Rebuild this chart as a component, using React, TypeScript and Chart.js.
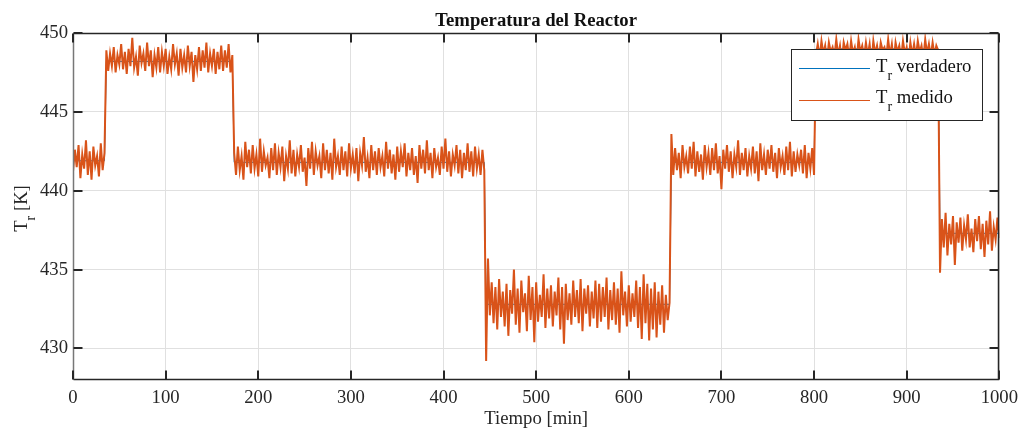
import React, { useEffect, useRef } from 'react';
import { Chart, registerables } from 'chart.js';

Chart.register(...registerables);

const titulo = 'Temperatura del Reactor';
const etiquetaX = 'Tiempo [min]';
const etiquetaY = ['T', 'r', ' [K]'];
const leyenda = [' verdadero', ' medido'];

const xTicks = [0, 100, 200, 300, 400, 500, 600, 700, 800, 900, 1000];
const yTicks = [430, 435, 440, 445, 450];

// Tr verdadero: step profile (min, K)
const tVerdadero = [0, 34, 36, 172, 174, 444, 446, 644, 646, 800, 802, 934, 936, 1000];
const verdadero = [441.9, 441.9, 448.2, 448.2, 441.8, 441.8, 432.8, 432.8, 441.8, 441.8, 449.0, 449.0, 437.3, 437.3];

// Tr medido: sampled every 2 min from 0 to 1000
const pasoMedido = 2;
const medido = [
  441.2, 442.6, 441.5, 442.9, 440.8, 442.3, 441.4, 443.2, 441.0, 442.5, 440.7, 442.8, 441.6, 442.2, 440.9, 443.0, 441.3, 442.4,
  448.9, 447.6, 448.7, 447.9, 449.1, 447.5, 448.6, 448.0, 449.3, 447.7,
  448.8, 447.4, 449.0, 447.9, 449.7, 447.8, 448.5, 447.3, 449.2, 448.1,
  448.7, 447.6, 449.4, 447.9, 448.9, 447.2, 448.6, 447.8, 449.1, 447.5,
  448.8, 447.9, 449.0, 447.4, 448.5, 447.7, 449.3, 448.0, 448.7, 447.3,
  449.0, 447.8, 448.6, 447.5, 449.2, 447.9, 448.8, 446.9, 448.6, 447.7,
  449.1, 447.6, 448.9, 447.8, 449.4, 447.5, 448.7, 447.9, 449.0, 447.4,
  448.8, 447.7, 449.2, 447.6, 448.9, 447.8, 449.3, 447.5, 448.6,
  442.4, 441.0, 442.8, 441.3, 442.2, 440.7, 443.1, 441.5, 442.6, 441.1,
  442.9, 441.4, 442.3, 440.9, 443.3, 441.2, 442.5, 441.6, 442.1, 440.8,
  442.7, 441.3, 443.0, 441.0, 442.4, 441.5, 442.8, 440.6, 442.2, 441.4,
  443.2, 441.1, 442.6, 440.9, 442.3, 441.5, 442.9, 441.2, 442.1, 440.3,
  442.7, 441.4, 443.1, 441.0, 442.5, 441.6, 442.2, 440.8, 443.0, 441.3,
  442.6, 441.1, 442.4, 440.7, 443.3, 441.5, 442.2, 441.0, 442.8, 441.3,
  442.5, 440.9, 443.0, 441.4, 442.3, 441.1, 442.7, 440.6, 442.4, 441.6,
  443.4, 441.2, 442.1, 440.8, 442.9, 441.3, 442.5, 441.0, 442.7, 441.5,
  442.2, 440.9, 443.1, 441.4, 442.6, 441.1, 442.3, 440.7, 442.8, 441.2,
  442.5, 441.5, 443.0, 440.9, 442.4, 441.3, 442.7, 441.0, 442.2, 440.5,
  442.9, 441.4, 442.6, 441.1, 443.2, 441.3, 442.4, 440.8, 442.7, 441.5,
  442.1, 441.0, 442.8, 441.4, 443.3, 441.2, 442.5, 440.9, 442.3, 441.6,
  442.9, 441.1, 442.6, 440.8, 442.4, 441.3,
  443.0, 441.2, 442.5, 440.9, 442.8, 441.4, 442.3, 441.0, 442.6, 441.3,
  429.2, 435.7, 432.1, 434.2, 431.6, 433.9, 431.2, 434.4, 432.0, 433.6,
  431.4, 434.1, 430.8, 433.7, 432.2, 435.0, 431.5, 433.8, 431.0, 434.3,
  432.3, 433.5, 431.1, 434.6, 431.8, 433.9, 430.4, 434.2, 431.7, 433.4,
  432.0, 434.7, 431.3, 433.8, 431.9, 434.0, 431.4, 433.6, 432.1, 434.5,
  431.2, 433.9, 430.3, 434.1, 431.8, 433.5, 431.5, 434.3, 432.0, 433.7,
  431.6, 434.4, 431.1, 433.8, 432.2, 434.0, 431.4, 433.6, 431.9, 434.3,
  431.3, 434.1, 431.7, 433.9, 432.0, 434.5, 431.2, 433.7, 431.8, 434.2,
  431.5, 433.8, 431.0, 434.9, 432.1, 433.6, 431.4, 434.0, 431.7, 433.5,
  432.0, 434.3, 431.3, 433.9, 430.6, 434.7, 431.6, 434.1, 430.5, 433.8,
  431.2, 434.2, 430.7, 433.6, 431.5, 434.0, 431.0, 433.4, 431.8, 432.9,
  443.6, 441.0, 442.7, 441.3, 442.4, 440.8, 442.9, 441.5, 442.2, 441.1,
  442.8, 441.4, 443.1, 440.9, 442.5, 441.2, 442.3, 440.7, 442.9, 441.5,
  442.4, 441.0, 442.7, 441.3, 443.0, 441.1, 442.2, 440.1, 442.6, 441.4,
  442.9, 441.2, 442.5, 440.8, 442.3, 441.5, 443.2, 441.0, 442.4, 441.3,
  442.7, 440.9, 442.2, 441.4, 442.8, 441.1, 442.5, 440.6, 443.0, 441.3,
  442.3, 441.0, 442.6, 441.4, 442.9, 441.2, 442.4, 440.8, 442.7, 441.5,
  442.2, 441.0, 442.8, 441.3, 443.1, 440.9, 442.5, 441.2, 442.3, 441.6,
  442.6, 441.1, 442.9, 440.8, 442.4, 441.4, 442.7, 441.0,
  448.6, 449.3, 448.4, 449.5, 448.7, 449.2, 448.3, 449.4, 448.8, 449.1,
  448.5, 449.6, 448.6, 449.2, 448.2, 449.4, 448.9, 449.3, 448.4, 449.5,
  448.7, 449.1, 448.3, 449.6, 448.8, 449.2, 448.5, 449.4, 448.6, 449.3,
  448.1, 449.5, 448.7, 449.2, 448.4, 449.4, 448.9, 449.1, 448.5, 449.6,
  448.6, 449.3, 448.2, 449.4, 448.8, 449.2, 448.4, 449.5, 448.7, 449.1,
  448.3, 449.4, 448.6, 449.3, 448.5, 449.5, 448.8, 449.2, 448.4, 449.6,
  448.7, 449.3, 448.5, 449.4, 448.6, 449.2, 448.9,
  434.8, 438.2, 436.4, 438.6, 435.9, 437.9, 436.6, 438.4, 435.3, 438.0,
  436.7, 438.3, 436.2, 437.8, 436.9, 438.5, 436.4, 437.6, 436.1, 438.2,
  436.8, 438.4, 436.3, 437.9, 435.8, 438.1, 436.6, 438.7, 436.2, 437.7,
  436.9, 438.3, 437.0,
];

const AZUL = '#0072BD';
const NARANJA = '#D95319';
const TINTA = '#262626';
const FUENTE = '"Liberation Serif", "Times New Roman", serif';
const TAM = 18.7;
const TAM_SUB = 14;

const marco = {
  id: 'marco',
  afterDraw(chart: any) {
    const { ctx, chartArea: a } = chart;
    const xs = chart.scales.x;
    const ys = chart.scales.y;
    const L = Math.round(a.left) + 0.5;
    const R = Math.round(a.right) - 0.5;
    const T = Math.round(a.top) + 0.5;
    const B = Math.round(a.bottom) - 0.5;
    ctx.save();
    // frame
    ctx.lineWidth = 1.5;
    ctx.strokeStyle = TINTA;
    ctx.beginPath();
    ctx.moveTo(L, T); ctx.lineTo(R, T); ctx.lineTo(R, B); ctx.lineTo(L, B);
    ctx.stroke();
    ctx.strokeStyle = '#777';
    ctx.lineWidth = 1.5;
    ctx.beginPath();
    ctx.moveTo(L, T); ctx.lineTo(L, B);
    ctx.stroke();
    // inward ticks
    ctx.strokeStyle = TINTA;
    ctx.lineWidth = 2;
    const tl = 9;
    ctx.beginPath();
    for (const v of xTicks) {
      const px = Math.round(xs.getPixelForValue(v));
      ctx.moveTo(px, B); ctx.lineTo(px, B - tl);
      ctx.moveTo(px, T); ctx.lineTo(px, T + tl);
    }
    for (const v of yTicks) {
      const py = Math.round(ys.getPixelForValue(v));
      ctx.moveTo(L, py); ctx.lineTo(L + tl, py);
      ctx.moveTo(R, py); ctx.lineTo(R - tl, py);
    }
    ctx.stroke();

    // title
    ctx.fillStyle = '#111';
    ctx.font = `bold ${TAM}px ${FUENTE}`;
    ctx.textAlign = 'center';
    ctx.textBaseline = 'alphabetic';
    ctx.fillText(titulo, (a.left + a.right) / 2, 26);

    // x label
    ctx.fillStyle = TINTA;
    ctx.font = `${TAM}px ${FUENTE}`;
    ctx.fillText(etiquetaX, (a.left + a.right) / 2, 424);

    // y label with subscript
    const dibujarSub = (x0: number, y0: number, partes: string[], alinear: 'left' | 'center') => {
      ctx.textAlign = 'left';
      ctx.font = `${TAM}px ${FUENTE}`;
      const w0 = ctx.measureText(partes[0]).width;
      const w2 = ctx.measureText(partes[2]).width;
      ctx.font = `${TAM_SUB}px ${FUENTE}`;
      const w1 = ctx.measureText(partes[1]).width;
      const total = w0 + w1 + w2;
      let x = alinear === 'center' ? x0 - total / 2 : x0;
      ctx.font = `${TAM}px ${FUENTE}`;
      ctx.fillText(partes[0], x, y0);
      x += w0;
      ctx.font = `${TAM_SUB}px ${FUENTE}`;
      ctx.fillText(partes[1], x, y0 + 8);
      x += w1;
      ctx.font = `${TAM}px ${FUENTE}`;
      ctx.fillText(partes[2], x, y0);
    };
    ctx.save();
    ctx.translate(27, (a.top + a.bottom) / 2 + 2);
    ctx.rotate(-Math.PI / 2);
    dibujarSub(0, 0, etiquetaY, 'center');
    ctx.restore();

    // legend
    const lx = 791.5, ly = 49.5, lw = 191, lh = 71;
    ctx.fillStyle = '#fff';
    ctx.fillRect(lx, ly, lw, lh);
    ctx.strokeStyle = TINTA;
    ctx.lineWidth = 1;
    ctx.strokeRect(lx, ly, lw, lh);
    const filas = [
      { color: AZUL, y: 68.5, base: 72, txt: leyenda[0] },
      { color: NARANJA, y: 100.5, base: 102.5, txt: leyenda[1] },
    ];
    for (const f of filas) {
      ctx.strokeStyle = f.color;
      ctx.lineWidth = 1;
      ctx.beginPath();
      ctx.moveTo(799, f.y); ctx.lineTo(870, f.y);
      ctx.stroke();
      ctx.fillStyle = '#111';
      dibujarSub(876, f.base, ['T', 'r', f.txt], 'left');
    }
    ctx.restore();
  },
};

export default function App() {
  const ref = useRef<HTMLCanvasElement>(null);
  useEffect(() => {
    const ptsMedido = medido.map((y, i) => ({ x: i * pasoMedido, y }));
    const ptsVerdadero = verdadero.map((y, i) => ({ x: tVerdadero[i], y }));
    const tickFont = { family: FUENTE, size: TAM };
    const chart = new Chart(ref.current as HTMLCanvasElement, {
      type: 'line',
      data: {
        datasets: [
          {
            label: 'Tr verdadero',
            data: ptsVerdadero,
            borderColor: AZUL,
            borderWidth: 1,
            pointRadius: 0,
            tension: 0,
            order: 2,
          },
          {
            label: 'Tr medido',
            data: ptsMedido,
            borderColor: NARANJA,
            borderWidth: 2,
            pointRadius: 0,
            tension: 0,
            order: 1,
          },
        ],
      },
      options: {
        animation: false,
        responsive: false,
        devicePixelRatio: 1,
        layout: { padding: { left: 0, right: 24, top: 33, bottom: 0 } },
        scales: {
          x: {
            type: 'linear',
            min: 0,
            max: 1000,
            afterBuildTicks: (s: any) => { s.ticks = xTicks.map((v) => ({ value: v })); },
            afterFit: (s: any) => { s.height = 52; },
            grid: { color: '#e0e0e0', lineWidth: 1, drawTicks: false },
            border: { display: false },
            ticks: { font: tickFont, color: TINTA, padding: 7, maxRotation: 0, autoSkip: false, callback: (v: any) => String(v) },
          },
          y: {
            type: 'linear',
            min: 428,
            max: 450,
            afterBuildTicks: (s: any) => { s.ticks = yTicks.map((v) => ({ value: v })); },
            afterFit: (s: any) => { s.width = 73; },
            grid: { color: '#e0e0e0', lineWidth: 1, drawTicks: false },
            border: { display: false },
            ticks: { font: tickFont, color: TINTA, padding: 5, autoSkip: false, callback: (v: any) => String(v) },
          },
        },
        plugins: {
          legend: { display: false },
          title: { display: false },
          tooltip: { enabled: false },
        },
      },
      plugins: [marco],
    } as any);
    return () => chart.destroy();
  }, []);
  return (
    <div style={{ position: 'fixed', left: 0, top: 0, width: 1025, height: 432, background: '#fff' }}>
      <canvas ref={ref} width={1025} height={432} style={{ display: 'block', width: 1025, height: 432 }} />
    </div>
  );
}
